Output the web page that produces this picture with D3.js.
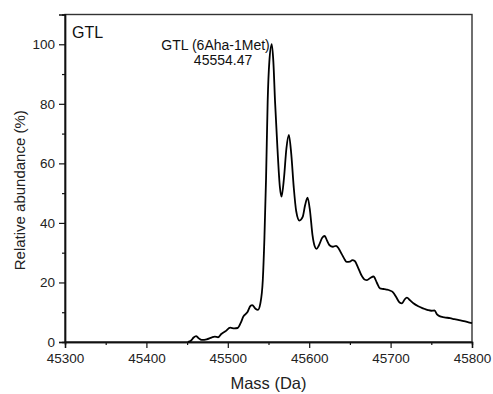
<!DOCTYPE html>
<html>
<head>
<meta charset="utf-8">
<script src="https://cdn.jsdelivr.net/npm/d3@7"></script>
<style>
  body { margin: 0; background: #fff; }
  svg { display: block; font-family: "Liberation Sans", Arial, sans-serif; }
</style>
</head>
<body>
<div id="chart"></div>
<script>
// spectrum trace
const massDa = [45451, 45455, 45458, 45461, 45464, 45468, 45474, 45480, 45484, 45488,
  45492, 45497, 45503, 45508, 45512, 45516, 45519, 45524, 45528, 45530,
  45534, 45537, 45540, 45543, 45545, 45547, 45549, 45551, 45554, 45556,
  45558, 45561, 45564, 45566, 45569, 45572, 45575, 45578, 45581, 45584,
  45588, 45592, 45595, 45598, 45601, 45604, 45607, 45609, 45612, 45616,
  45619, 45622, 45625, 45629, 45633, 45636, 45640, 45643, 45646, 45650,
  45653, 45656, 45660, 45664, 45668, 45671, 45675, 45679, 45683, 45687,
  45691, 45695, 45699, 45703, 45707, 45711, 45714, 45717, 45720, 45724,
  45728, 45734, 45740, 45746, 45750, 45754, 45757, 45760, 45766, 45773,
  45778, 45783, 45790, 45797, 45800];
const abundance = [0, 0.5, 1.5, 2.0, 1.3, 0.7, 0.9, 1.5, 1.8, 1.6,
  2.7, 3.6, 4.8, 4.6, 4.7, 6.5, 8.5, 10, 12.2, 12.4,
  11.2, 10.8, 13, 20.8, 35, 55, 81, 94, 100, 94,
  81, 65, 52, 48.8, 55, 65, 69.6, 63, 52, 44,
  40.8, 42, 46, 48.5, 44, 36, 32, 31.3, 32.5, 35,
  35.6, 34, 32.5, 32, 32.3, 31.5, 29.5, 28, 26.9, 27,
  27.5, 27.2, 25, 22.5, 21, 20.8, 21.5, 22, 20, 18,
  17.8, 17.6, 17.3, 16.7, 15, 13.3, 13, 14.2, 14.9, 14,
  13, 12, 11.3, 10.7, 10.5, 10.6, 9.3, 8.7, 8.3, 8.0,
  7.7, 7.4, 7.0, 6.5, 6.3];

const xTicks = [45300, 45400, 45500, 45600, 45700, 45800];
const xMinorTicks = [45350, 45450, 45550, 45650, 45750];
const yTicks = [0, 20, 40, 60, 80, 100];
const yMinorTicks = [10, 30, 50, 70, 90];

const panelLabel = "GTL";
const peakMass = 45554;
const peakLabel = ["GTL (6Aha-1Met)", "45554.47"];

const W = 493, H = 394;
const margin = { top: 14.5, right: 21, bottom: 52, left: 65 };
const width = W - margin.left - margin.right;
const height = H - margin.top - margin.bottom;

const svg = d3.select("#chart").append("svg")
    .attr("width", W)
    .attr("height", H);

const g = svg.append("g")
    .attr("transform", `translate(${margin.left},${margin.top})`);

const x = d3.scaleLinear().domain([45300, 45800]).range([0, width]);
const y = d3.scaleLinear().domain([0, 110]).range([height, 0]);

// frame
g.append("rect")
    .attr("width", width)
    .attr("height", height)
    .style("fill", "none")
    .style("stroke", "#333")
    .style("stroke-width", 1.4);

// axes
const styleAxis = sel => {
    sel.select(".domain").style("stroke", "#111").style("stroke-width", 1.4);
    sel.selectAll(".tick line").style("stroke", "#111").style("stroke-width", 1.2);
    sel.selectAll("text").style("font-size", "13.5px").style("fill", "#222")
        .style("font-family", "'Liberation Sans', Arial, sans-serif");
};

g.append("g")
    .attr("transform", `translate(0,${height})`)
    .call(d3.axisBottom(x).tickValues(xTicks).tickSize(6).tickPadding(5).tickFormat(d3.format("d")))
    .call(styleAxis);
g.append("g")
    .attr("transform", `translate(0,${height})`)
    .call(d3.axisBottom(x).tickValues(xMinorTicks).tickSize(3).tickFormat(""))
    .call(styleAxis);

g.append("g")
    .call(d3.axisLeft(y).tickValues(yTicks).tickSize(6).tickPadding(4))
    .call(styleAxis);
g.append("g")
    .call(d3.axisLeft(y).tickValues(yMinorTicks).tickSize(3).tickFormat(""))
    .call(styleAxis);

// axis titles
g.append("text")
    .attr("x", width / 2)
    .attr("y", height + 47)
    .style("text-anchor", "middle")
    .style("font-size", "16.5px")
    .style("fill", "#222")
    .text("Mass (Da)");

g.append("text")
    .attr("transform", "rotate(-90)")
    .attr("x", -(height / 2) - 12)
    .attr("y", -40.5)
    .style("text-anchor", "middle")
    .style("font-size", "15px")
    .style("fill", "#222")
    .text("Relative abundance (%)");

// spectrum
const pts = massDa.map((m, i) => [m, abundance[i]]);
g.append("path")
    .datum(pts)
    .attr("d", d3.line()
        .x(d => x(d[0]))
        .y(d => y(d[1]))
        .curve(d3.curveMonotoneX))
    .style("fill", "none")
    .style("stroke", "#000")
    .style("stroke-width", 1.8)
    .style("stroke-linejoin", "round");

// labels
g.append("text")
    .attr("x", 7)
    .attr("y", 23)
    .style("font-size", "16px")
    .style("fill", "#111")
    .text(panelLabel);

g.append("text")
    .attr("x", x(peakMass) - 2)
    .attr("y", y(100) + 5.5)
    .style("text-anchor", "end")
    .style("font-size", "14px")
    .style("fill", "#111")
    .text(peakLabel[0]);

g.append("text")
    .attr("x", x(peakMass) - 19.5)
    .attr("y", y(100) + 20.5)
    .style("text-anchor", "end")
    .style("font-size", "14px")
    .style("fill", "#111")
    .text(peakLabel[1]);
</script>
</body>
</html>
